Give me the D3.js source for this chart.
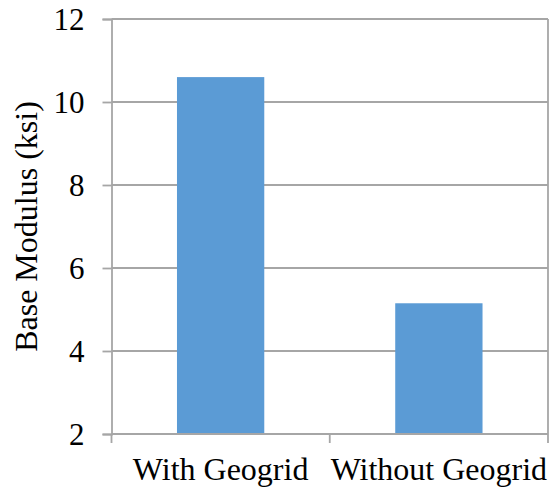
<!DOCTYPE html>
<html><head><meta charset="utf-8">
<style>body{margin:0;background:#fff;font-family:"Liberation Serif",serif} svg text{font-family:"Liberation Serif",serif}</style>
<script src="https://cdn.jsdelivr.net/npm/d3@7"></script>
</head><body>
<div style="position:absolute;left:0;top:0;opacity:0;font-size:1px;font-family:'Liberation Serif'">.</div>
<svg id="chart" width="553" height="492"></svg>
<script>
const categories = ["With Geogrid", "Without Geogrid"];
const values = [10.6, 5.15];
const yTicks = [2, 4, 6, 8, 10, 12];
const yTitle = "Base Modulus (ksi)";

const svg = d3.select("#chart").style("font-family", "Liberation Serif");
const m = {left: 111.5, right: 548, top: 19, bottom: 434};
const gridColor = "#a6a6a6";
const serifFont = "Liberation Serif";

const x = d3.scaleBand().domain(categories).range([m.left, m.right])
  .paddingInner(0.6).paddingOuter(0.3);
const y = d3.scaleLinear().domain([2, 12]).range([m.bottom, m.top]);

svg.append("g").selectAll("line").data(yTicks.slice(1)).join("line")
  .attr("x1", m.left).attr("x2", m.right)
  .attr("y1", d => y(d)).attr("y2", d => y(d))
  .attr("stroke", gridColor).attr("stroke-width", 1.8);
svg.append("line").attr("x1", m.right).attr("x2", m.right)
  .attr("y1", m.top).attr("y2", m.bottom)
  .attr("stroke", gridColor).attr("stroke-width", 1.8);

svg.append("g").selectAll("rect").data(values).join("rect")
  .attr("x", (d, i) => x(categories[i]))
  .attr("width", x.bandwidth())
  .attr("y", d => y(d))
  .attr("height", d => y(2) - y(d))
  .attr("fill", "#5b9bd5");

const yAxis = d3.axisLeft(y).tickValues(yTicks).tickSize(9).tickPadding(18).tickFormat(d3.format("d"));
const gy = svg.append("g").attr("transform", `translate(${m.left},0)`).call(yAxis);
gy.attr("font-family", serifFont).attr("font-size", 31);
gy.select(".domain").attr("stroke", gridColor).attr("stroke-width", 1.8);
gy.selectAll(".tick line").attr("stroke", gridColor).attr("stroke-width", 1.8);
gy.selectAll(".tick text").attr("font-family", serifFont).style("font-family", serifFont)
  .attr("fill", "#000").attr("dy", "0.33em");

const xAxis = d3.axisBottom(x).tickSize(0).tickPadding(0);
const gx = svg.append("g").attr("transform", `translate(0,${m.bottom})`).call(xAxis);
gx.attr("font-family", serifFont).attr("font-size", 32);
gx.select(".domain").attr("stroke", gridColor).attr("stroke-width", 1.8).attr("d", `M${m.left},0H${m.right}`);
gx.selectAll(".tick text").attr("font-family", serifFont).style("font-family", serifFont).attr("fill", "#000")
  .attr("dy", null).attr("y", 46);
const bounds = [m.left, (x(categories[0]) + x.bandwidth() + x(categories[1])) / 2, m.right];
gx.append("g").selectAll("line").data(bounds).join("line")
  .attr("x1", d => d).attr("x2", d => d).attr("y1", 0).attr("y2", 9)
  .attr("stroke", gridColor).attr("stroke-width", 1.8);

svg.append("text")
  .attr("transform", `translate(37,${(m.top + m.bottom) / 2}) rotate(-90)`)
  .attr("text-anchor", "middle")
  .attr("font-family", serifFont).style("font-family", serifFont)
  .attr("font-size", 32).attr("fill", "#000")
  .text(yTitle);
</script>
</body></html>
